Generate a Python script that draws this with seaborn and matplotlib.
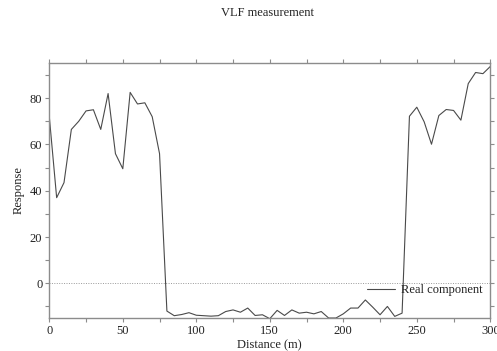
import numpy as np
import pandas as pd
import matplotlib
matplotlib.use("Agg")
import matplotlib.pyplot as plt
import seaborn as sns
from matplotlib.ticker import MultipleLocator

distance = list(range(0, 305, 5))
response = [72, 37, 43.5, 66.5, 70, 74.5, 75, 66.5, 82, 56,
            49.5, 82.5, 77.5, 78, 72, 56, -12, -14, -13.5, -12.7,
            -13.8, -14, -14.2, -14, -12.2, -11.5, -12.5, -10.7, -13.9, -13.6,
            -15.3, -11.7, -13.9, -11.5, -12.9, -12.5, -13.2, -12.2, -15, -15,
            -13.2, -10.7, -10.7, -7.2, -10.3, -13.6, -10, -14.3, -12.9, 72.2,
            76.1, 69.8, 60.1, 72.5, 75.1, 74.7, 70.5, 86.3, 91.1, 90.6, 93.7]
series_name = "Real component"
title = "VLF measurement"
xlabel = "Distance (m)"
ylabel = "Response"

df = pd.DataFrame({"Distance": distance, "Response": response, "series": series_name})

sns.set_style("white")
plt.rcParams["font.family"] = ["Liberation Serif", "DejaVu Serif"]

fig = plt.figure(figsize=(4.97, 3.51), dpi=100)
ax = fig.add_axes([0.0992, 0.094, 0.8873, 0.7265])

sns.lineplot(data=df, x="Distance", y="Response", hue="series",
             palette=["#4a4a4a"], linewidth=0.8, ax=ax)
ax.axhline(0, color="#999999", linestyle=(0, (1, 1.5)), linewidth=0.7, zorder=0)

ax.set_xlim(0, 300)
ax.set_ylim(-15, 95.2)
ax.xaxis.set_major_locator(MultipleLocator(50))
ax.xaxis.set_minor_locator(MultipleLocator(25))
ax.yaxis.set_major_locator(MultipleLocator(20))
ax.yaxis.set_minor_locator(MultipleLocator(10))

spine_col = "#8c8c8c"
for s in ax.spines.values():
    s.set_color(spine_col)
    s.set_linewidth(1.0)
ax.tick_params(which="both", direction="out", length=3, width=0.8,
               color=spine_col, labelsize=9, labelcolor="#222222",
               top=True, right=True, bottom=True, left=True,
               labeltop=False, labelright=False, pad=2)

ax.set_xlabel(xlabel, fontsize=9, color="#222222", labelpad=2)
ax.set_ylabel(ylabel, fontsize=9, color="#222222", labelpad=4)
fig.text(0.5377, 0.962, title, ha="center", va="center", fontsize=9, color="#222222")

leg = ax.legend(loc="center left", bbox_to_anchor=(0.71, 0.11), frameon=False,
                fontsize=9, handlelength=2.2, handletextpad=0.5, borderaxespad=0)
for t in leg.get_texts():
    t.set_color("#222222")

fig.savefig("out.png", dpi=100)
